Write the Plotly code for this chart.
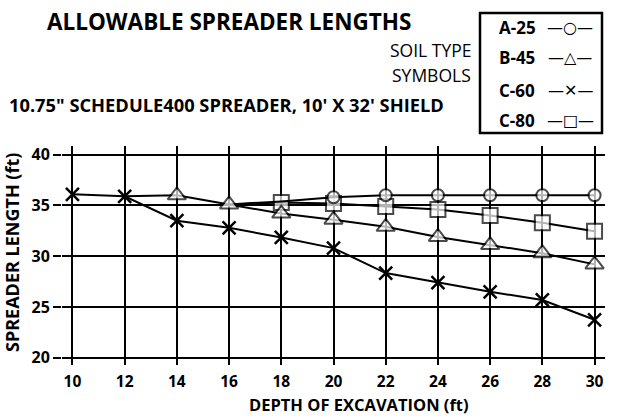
import plotly.graph_objects as go

# ---- data ----
a25_x = [16, 18, 20, 22, 24, 26, 28, 30]
a25_y = [35.1, 35.4, 35.8, 36.0, 36.0, 36.0, 36.0, 36.0]

b45_x = [12, 14, 16, 18, 20, 22, 24, 26, 28, 30]
b45_y = [35.9, 36.0, 35.1, 34.2, 33.6, 32.9, 31.9, 31.1, 30.3, 29.2]

c60_x = [10, 12, 14, 16, 18, 20, 22, 24, 26, 28, 30]
c60_y = [36.1, 35.9, 33.5, 32.8, 31.85, 30.8, 28.35, 27.4, 26.5, 25.7, 23.75]

c80_x = [16, 18, 20, 22, 24, 26, 28, 30]
c80_y = [35.1, 35.3, 35.2, 34.9, 34.6, 34.0, 33.3, 32.45]

x_ticks = [10, 12, 14, 16, 18, 20, 22, 24, 26, 28, 30]
y_ticks = [20, 25, 30, 35, 40]

legend_labels = ["A-25", "B-45", "C-60", "C-80"]
legend_syms = ["\u2014\u25cb\u2014", "\u2014\u25b3\u2014", "\u2014\u2715\u2014", "\u2014\u25a1\u2014"]

# ---- layout geometry ----
W, H = 618, 420
ML, MR, MT, MB = 62, 13, 146, 55
PW = W - ML - MR
PH = H - MT - MB

def px(x):
    return (x - ML) / PW

def py(y):
    return 1 - (y - MT) / PH

BOLD = "Open Sans"
fig = go.Figure()

line = dict(color="black", width=2)

def sizes(n, hidden, s):
    return [0 if i < hidden else s for i in range(n)]

fig.add_trace(go.Scatter(x=c80_x, y=c80_y, mode="lines+markers", line=line,
                         marker=dict(symbol="square", size=sizes(len(c80_x), 1, 15), color="white",
                                     line=dict(color="black", width=2)), showlegend=False))
fig.add_trace(go.Scatter(x=a25_x, y=a25_y, mode="lines+markers", line=line,
                         marker=dict(symbol="circle", size=sizes(len(a25_x), 2, 12), color="white",
                                     line=dict(color="black", width=2)), showlegend=False))
fig.add_trace(go.Scatter(x=b45_x, y=b45_y, mode="lines+markers", line=line,
                         marker=dict(symbol="triangle-up", size=sizes(len(b45_x), 1, 16), color="white",
                                     line=dict(color="black", width=2)), showlegend=False))
fig.add_trace(go.Scatter(x=c60_x, y=c60_y, mode="lines+markers", line=line,
                         marker=dict(symbol="x-thin", size=13, color="black",
                                     line=dict(color="black", width=2.5)), showlegend=False))

fig.update_layout(
    xaxis=dict(range=[9.6, 30.4], tickmode="array", tickvals=x_ticks, showgrid=True,
               gridcolor="black", gridwidth=2, zeroline=False, showline=False,
               ticks="outside", ticklen=2, tickcolor="rgba(0,0,0,0)",
               tickfont=dict(family=BOLD, size=15.5, color="black", weight="bold")),
    yaxis=dict(range=[19.3, 40.85], tickmode="array", tickvals=y_ticks, showgrid=True,
               gridcolor="black", gridwidth=2, zeroline=False, showline=False,
               ticks="outside", ticklen=8, tickwidth=2, tickcolor="black",
               tickfont=dict(family=BOLD, size=16, color="black", weight="bold")),
)

ann = []
ann.append(dict(text="ALLOWABLE SPREADER LENGTHS", x=px(45), y=py(21.5), xanchor="left", yanchor="middle",
                font=dict(family=BOLD, size=22.5, color="black", weight="bold")))
ann.append(dict(text="10.75\" SCHEDULE400 SPREADER, 10' X 32' SHIELD", x=px(7), y=py(104.5),
                xanchor="left", yanchor="middle",
                font=dict(family=BOLD, size=18.3, color="black", weight="bold")))
ann.append(dict(text="SOIL TYPE", x=px(473), y=py(50), xanchor="right", yanchor="middle",
                font=dict(family="Open Sans", size=17.5, color="black")))
ann.append(dict(text="SYMBOLS", x=px(473), y=py(74.5), xanchor="right", yanchor="middle",
                font=dict(family="Open Sans", size=17.5, color="black")))
rows_y = [27.5, 57, 90, 120]
for lab, sym, yy in zip(legend_labels, legend_syms, rows_y):
    ann.append(dict(text=lab, x=px(497), y=py(yy), xanchor="left", yanchor="middle",
                    font=dict(family=BOLD, size=17, color="black", weight="bold")))
    ann.append(dict(text=sym, x=px(570), y=py(yy), xanchor="center", yanchor="middle",
                    font=dict(family="DejaVu Sans", size=16, color="black")))
ann.append(dict(text="DEPTH OF EXCAVATION (ft)", x=px(359), y=py(404), xanchor="center", yanchor="middle",
                font=dict(family=BOLD, size=16.5, color="black", weight="bold")))
ann.append(dict(text="SPREADER LENGTH (ft)", x=px(12), y=py(253), xanchor="center", yanchor="middle",
                textangle=-90, font=dict(family=BOLD, size=18, color="black", weight="bold")))
for a in ann:
    a.update(xref="paper", yref="paper", showarrow=False)

fig.update_layout(
    width=W, height=H, margin=dict(l=ML, r=MR, t=MT, b=MB, autoexpand=False),
    plot_bgcolor="white", paper_bgcolor="white",
    annotations=ann,
    shapes=[dict(type="rect", xref="paper", yref="paper", x0=px(480), x1=px(602), y0=py(13), y1=py(133),
                 line=dict(color="black", width=2.5))],
)

fig.write_html("out.html", config={"displayModeBar": False},
               post_script="document.body.style.margin='0';")
